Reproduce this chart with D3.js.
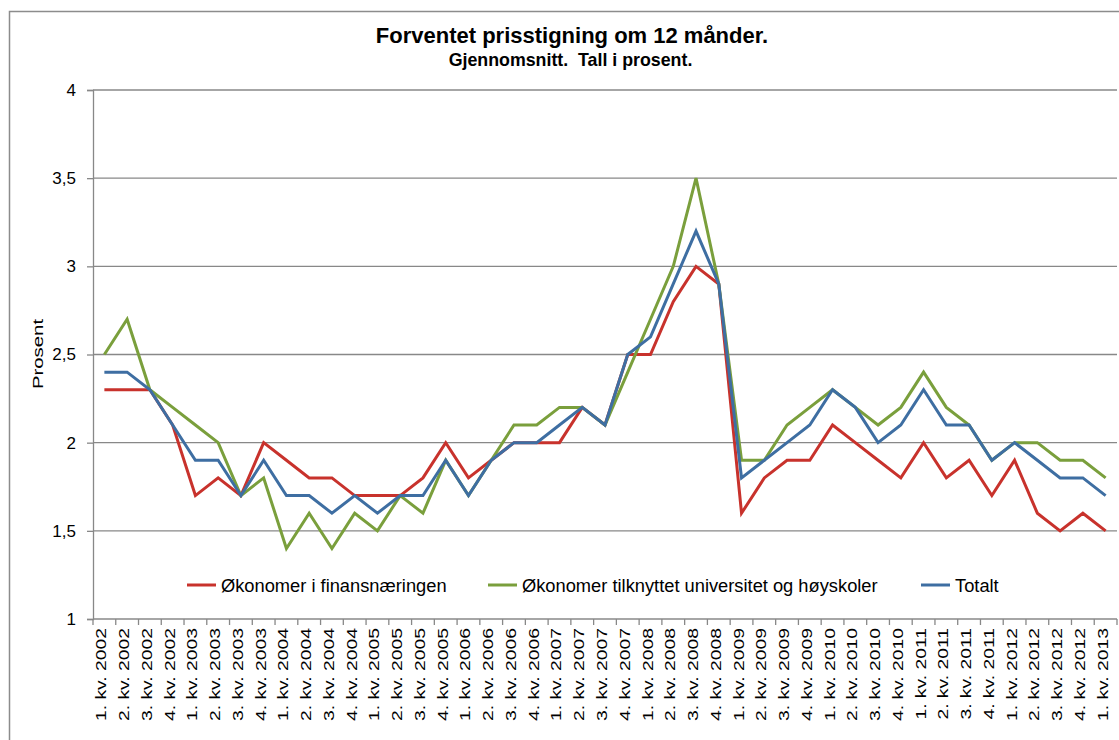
<!DOCTYPE html>
<html>
<head>
<meta charset="utf-8">
<script src="https://cdn.jsdelivr.net/npm/d3@7"></script>
<style>
  body { margin: 0; background: #fff; }
  text { font-family: "Liberation Sans", Arial, sans-serif; }
</style>
</head>
<body>
<div class="chart-container"></div>
<script>
var w = 1119;
var h = 740;

// quarters 1. kv. 2002 .. 1. kv. 2013
var quarters = [];
for (var y = 2002; y <= 2013; y++) {
  for (var q = 1; q <= 4; q++) {
    if (y === 2013 && q > 1) break;
    quarters.push(q + ". kv. " + y);
  }
}

var finans = [2.3,2.3,2.3,2.1,1.7,1.8,1.7,2.0,1.9,1.8,1.8,1.7,1.7,1.7,1.8,2.0,
  1.8,1.9,2.0,2.0,2.0,2.2,2.1,2.5,2.5,2.8,3.0,2.9,1.6,1.8,1.9,1.9,2.1,2.0,1.9,1.8,
  2.0,1.8,1.9,1.7,1.9,1.6,1.5,1.6,1.5];
var univ = [2.5,2.7,2.3,2.2,2.1,2.0,1.7,1.8,1.4,1.6,1.4,1.6,1.5,1.7,1.6,1.9,
  1.7,1.9,2.1,2.1,2.2,2.2,2.1,2.4,2.7,3.0,3.5,2.9,1.9,1.9,2.1,2.2,2.3,2.2,2.1,2.2,
  2.4,2.2,2.1,1.9,2.0,2.0,1.9,1.9,1.8];
var totalt = [2.4,2.4,2.3,2.1,1.9,1.9,1.7,1.9,1.7,1.7,1.6,1.7,1.6,1.7,1.7,1.9,
  1.7,1.9,2.0,2.0,2.1,2.2,2.1,2.5,2.6,2.9,3.2,2.9,1.8,1.9,2.0,2.1,2.3,2.2,2.0,2.1,
  2.3,2.1,2.1,1.9,2.0,1.9,1.8,1.8,1.7];

var seriesNames = ["Økonomer i finansnæringen", "Økonomer tilknyttet universitet og høyskoler", "Totalt"];
var seriesColors = ["#c8322c", "#7a9f3c", "#3e6ea2"];
var yTicks = [1, 1.5, 2, 2.5, 3, 3.5, 4];

var svg = d3.select(".chart-container")
  .append("svg")
  .attr("width", w)
  .attr("height", h);

// chart frame
svg.append("rect")
  .attr("x", 9.5).attr("y", 11.5)
  .attr("width", 1200).attr("height", 800)
  .attr("fill", "#fff")
  .attr("stroke", "#8c8c8c")
  .attr("stroke-width", 1.5);

var pLeft = 93, pRight = 1117, pTop = 90, pBottom = 619;

var x = d3.scaleBand()
  .domain(quarters)
  .range([pLeft, pRight]);

var yScale = d3.scaleLinear()
  .domain([1, 4])
  .range([pBottom, pTop]);

// gridlines
svg.append("g")
  .selectAll("line")
  .data(yTicks.slice(1))
  .enter()
  .append("line")
  .attr("x1", pLeft).attr("x2", pRight)
  .attr("y1", function(d) { return yScale(d); })
  .attr("y2", function(d) { return yScale(d); })
  .attr("stroke", "#888")
  .attr("stroke-width", 1.3);

// y axis
var yAxis = svg.append("g")
  .attr("transform", "translate(" + pLeft + ",0)")
  .call(d3.axisLeft(yScale)
    .tickValues(yTicks)
    .tickSize(6)
    .tickPadding(11)
    .tickFormat(function(d) { return String(d).replace(".", ","); }));
yAxis.selectAll("text").attr("font-size", 17).attr("fill", "#000")
  .style("font-family", "'Liberation Sans', Arial, sans-serif");
yAxis.selectAll("line,path").attr("stroke", "#888").attr("stroke-width", 1.3);

// x axis with ticks between categories
var xAxisG = svg.append("g").attr("transform", "translate(0," + pBottom + ")");
xAxisG.append("line")
  .attr("x1", pLeft).attr("x2", pRight)
  .attr("stroke", "#888").attr("stroke-width", 1.3);
xAxisG.selectAll(".tk")
  .data(d3.range(quarters.length + 1))
  .enter()
  .append("line")
  .attr("class", "tk")
  .attr("x1", function(i) { return pLeft + i * x.step(); })
  .attr("x2", function(i) { return pLeft + i * x.step(); })
  .attr("y1", 0).attr("y2", 6)
  .attr("stroke", "#888").attr("stroke-width", 1.3);
xAxisG.selectAll(".lbl")
  .data(quarters)
  .enter()
  .append("text")
  .attr("class", "lbl")
  .attr("transform", function(d) {
    return "translate(" + (x(d) + x.bandwidth() / 2 + 2) + ",9) rotate(-90) scale(1.38,1)";
  })
  .attr("text-anchor", "end")
  .attr("font-size", 14)
  .attr("fill", "#000")
  .text(function(d) { return d; });

// lines
var data = [finans, univ, totalt];
var line = d3.line()
  .x(function(d, i) { return x(quarters[i]) + x.bandwidth() / 2; })
  .y(function(d) { return yScale(d); });

svg.append("g")
  .selectAll("path")
  .data(data)
  .enter()
  .append("path")
  .attr("d", line)
  .attr("fill", "none")
  .attr("stroke", function(d, i) { return seriesColors[i]; })
  .attr("stroke-width", 3)
  .attr("stroke-linejoin", "miter");

// legend
var legendX = [187, 488, 921];
var legend = svg.append("g")
  .selectAll("g")
  .data(seriesNames)
  .enter()
  .append("g")
  .attr("transform", function(d, i) { return "translate(" + legendX[i] + ",585)"; });
legend.append("line")
  .attr("x1", 0).attr("x2", 29)
  .attr("stroke", function(d, i) { return seriesColors[i]; })
  .attr("stroke-width", 3);
legend.append("text")
  .attr("x", 34).attr("y", 6.5)
  .attr("font-size", 18.3)
  .attr("fill", "#000")
  .text(function(d) { return d; });

// axis title
svg.append("text")
  .attr("transform", "translate(43,354) rotate(-90) scale(1.36,1)")
  .attr("text-anchor", "middle")
  .attr("font-size", 15)
  .text("Prosent");

// titles
svg.append("text")
  .attr("x", 572).attr("y", 43)
  .attr("text-anchor", "middle")
  .attr("font-size", 22)
  .attr("font-weight", "bold")
  .text("Forventet prisstigning om 12 månder.");
svg.append("text")
  .attr("x", 570.5).attr("y", 65.5)
  .attr("text-anchor", "middle")
  .attr("font-size", 17.8)
  .attr("font-weight", "bold")
  .style("white-space", "pre")
  .text("Gjennomsnitt.  Tall i prosent.");
</script>
</body>
</html>
